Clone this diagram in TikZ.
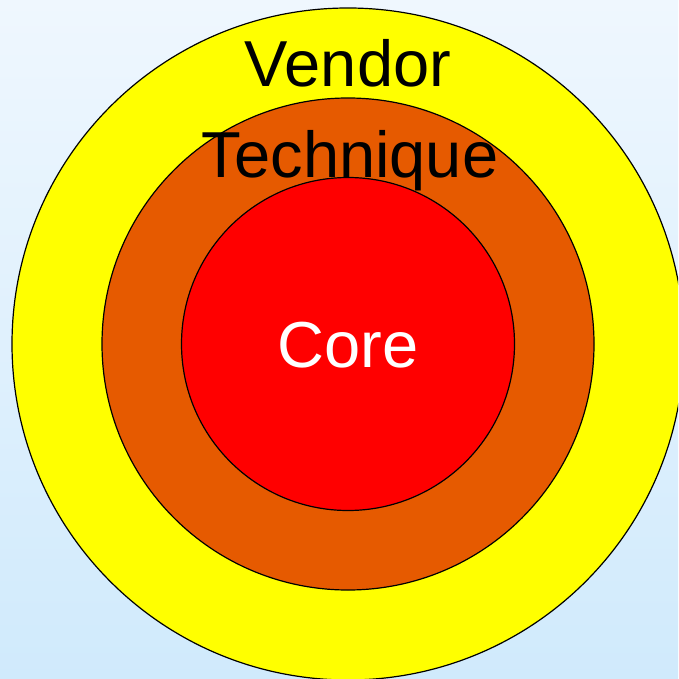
\documentclass[tikz,border=0pt]{standalone}
\usepackage{fontspec}
\setmainfont{Liberation Sans}
\usepackage{tikz}
\usetikzlibrary{positioning,calc}

\definecolor{skytop}{HTML}{EFF7FE}
\definecolor{skybot}{HTML}{D0EAFC}
\definecolor{ringyellow}{HTML}{FFFF00}
\definecolor{ringorange}{HTML}{E65A00}
\definecolor{ringred}{HTML}{FF0000}

\begin{document}
\begin{tikzpicture}[
      x = 1pt,y = -1pt,
      ring/.style = {draw = black,line width = 1.2pt},
      label/.style = {anchor = base,inner sep = 0,font = \fontsize{65}{72}\selectfont}
    ]
      \useasboundingbox (0,0) rectangle (678,679);
      \clip (0,0) rectangle (678,679);
      \shade[top color = skytop,bottom color = skybot] (0,0) rectangle (678,679);

      \coordinate (centre) at (348,344);
      \draw[ring,fill = ringyellow] (centre) circle[radius = 336];
      \draw[ring,fill = ringorange] (centre) circle[radius = 246];
      \draw[ring,fill = ringred] (centre) circle[radius = 166.5];

      \node (vendor)[label] at (348,87) {Vendor};
      \node (technique)[label] at (350,177) {Technique};
      \node (core)[label,text = white] at (348,367) {Core};
    \end{tikzpicture}
\end{document}
